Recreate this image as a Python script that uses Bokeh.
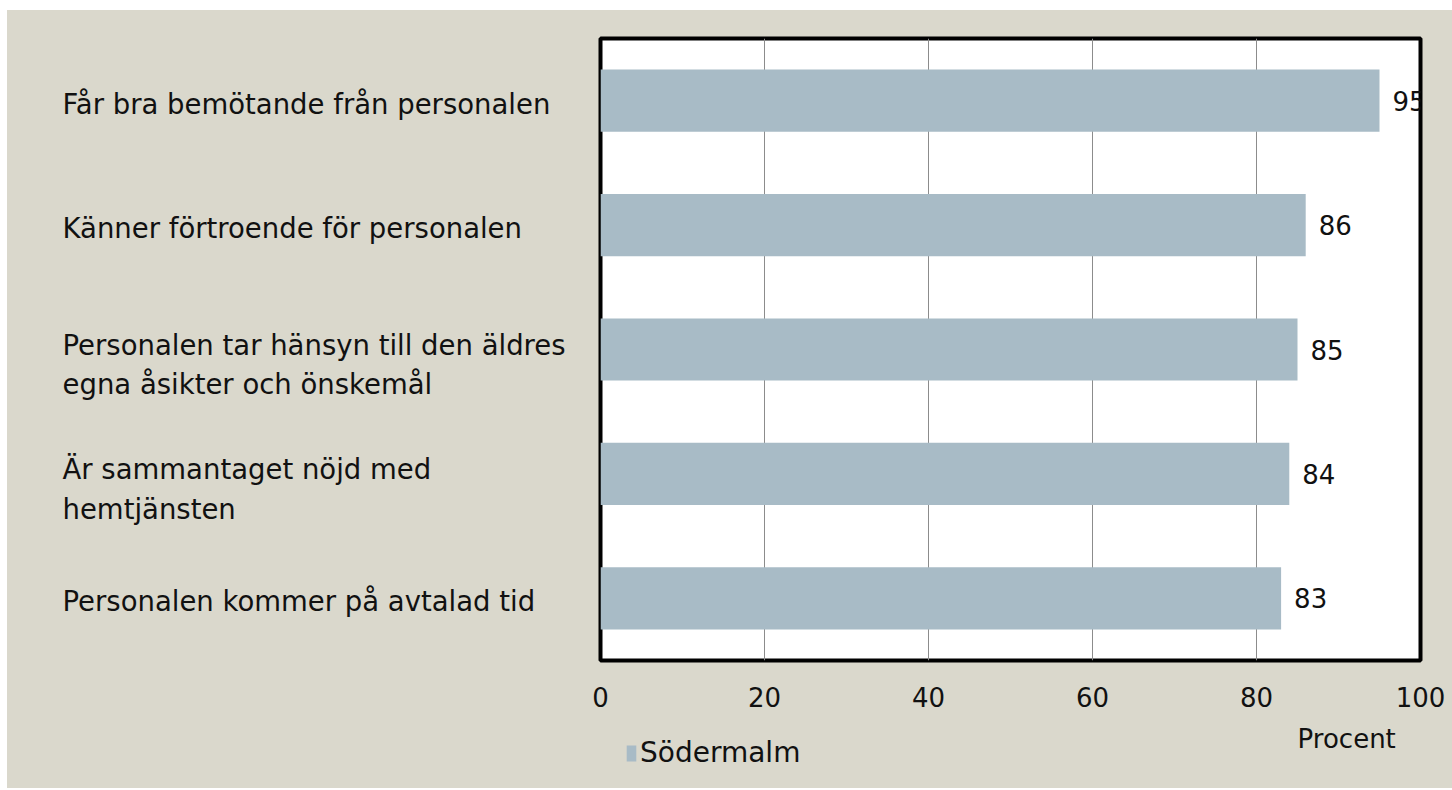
from bokeh.plotting import figure
from bokeh.models import FactorRange, Range1d, Legend, LegendItem, ColumnDataSource, FixedTicker
from bokeh.layouts import row, column
from bokeh.embed import file_html
from bokeh.resources import INLINE
from bokeh.core.properties import value

# ---- data (top to bottom as in the chart) ----
categories = [
    "Får bra bemötande från personalen",
    "Känner förtroende för personalen",
    "Personalen tar hänsyn till den äldres\negna åsikter och önskemål",
    "Är sammantaget nöjd med\nhemtjänsten",
    "Personalen kommer på avtalad tid",
]
values = [95, 86, 85, 84, 83]
series_name = "Södermalm"
x_ticks = [0, 20, 40, 60, 80, 100]
x_title = "Procent"

BG = "#DAD8CC"
BAR = "#A8BBC6"
GRID = "#8C8C8C"
FONT = "DejaVu Sans"
TXT = "#111111"

cats_bottom_up = list(reversed(categories))
yr = FactorRange(*cats_bottom_up, range_padding=0)

src = ColumnDataSource(dict(
    cat=categories,
    val=values,
    lab=[str(v) for v in values],
    yoff=[15 if "\n" in c else 3 for c in categories],
))

TOP = 28
FRAME_H = 622
H1 = 710
BOT = H1 - TOP - FRAME_H
LW = 560
ML = 33
FW = 820
MR = 32
RW = ML + FW + MR
TOTAL_W = LW + RW

def bare(fig):
    fig.background_fill_color = None
    fig.border_fill_color = None
    fig.outline_line_color = None

# ---- left panel: category labels ----
left = figure(width=LW, height=H1, y_range=yr, x_range=Range1d(0, LW),
              x_axis_location=None, y_axis_location=None,
              toolbar_location=None, output_backend="svg",
              min_border_left=0, min_border_right=0,
              min_border_top=TOP, min_border_bottom=BOT)
left.grid.visible = False
bare(left)
left.text(x=55, y="cat", text="cat", y_offset="yoff", source=src,
          text_align="left", text_baseline="middle",
          text_font=value(FONT), text_font_size="27.5px", text_color=TXT,
          text_line_height=1.24)

# ---- right panel: chart ----
xr = Range1d(0, 100)
p = figure(width=RW, height=H1, y_range=yr, x_range=xr,
           toolbar_location=None, output_backend="svg",
           min_border_left=ML, min_border_right=MR,
           min_border_top=TOP, min_border_bottom=BOT)
p.background_fill_color = "white"
p.border_fill_color = None
p.outline_line_color = "black"
p.outline_line_width = 4

bars = p.hbar(y="cat", right="val", left=0, height=0.5, source=src,
              fill_color=BAR, line_color=None)
p.text(x="val", y="cat", text="lab", source=src, x_offset=13,
       text_align="left", text_baseline="middle",
       text_font=value(FONT), text_font_size="26px", text_color=TXT)

p.yaxis.visible = False
p.ygrid.visible = False
p.xgrid.grid_line_color = GRID
p.xgrid.grid_line_width = 1
p.xaxis.ticker = FixedTicker(ticks=x_ticks)
p.xaxis.axis_line_color = None
p.xaxis.major_tick_line_color = None
p.xaxis.minor_tick_line_color = None
p.xaxis.major_label_standoff = 20
p.xaxis.major_label_text_font = FONT
p.xaxis.major_label_text_font_size = "26px"
p.xaxis.major_label_text_color = TXT

# ---- bottom strip: axis title and legend ----
H2 = 68
bottom = figure(width=TOTAL_W, height=H2, x_range=xr, y_range=Range1d(H2, 0),
                x_axis_location=None, y_axis_location=None,
                toolbar_location=None, output_backend="svg",
                min_border_left=LW + ML, min_border_right=MR,
                min_border_top=0, min_border_bottom=0)
bottom.grid.visible = False
bare(bottom)
bottom.text(x=[91], y=[18], text=[x_title], text_align="center",
            text_baseline="middle", text_font=value(FONT),
            text_font_size="26px", text_color=TXT)
# legend proxy for the series (zero-size, outside the visible strip)
swatch = bottom.hbar(y=[-1000], left=[0], right=[0], height=1,
                     fill_color=BAR, line_color=None)
legend = Legend(items=[LegendItem(label=series_name, renderers=[swatch])],
                location=(25, 19), orientation="horizontal",
                background_fill_alpha=0, border_line_color=None,
                padding=0, margin=0, glyph_width=12, glyph_height=20,
                label_standoff=3, label_text_font=FONT,
                label_text_font_size="28px", label_text_color=TXT)
bottom.add_layout(legend)

layout = column(row(left, p), bottom,
                styles={"background-color": BG}, margin=(10, 0, 0, 7))
open("out.html", "w").write(file_html(layout, INLINE))
